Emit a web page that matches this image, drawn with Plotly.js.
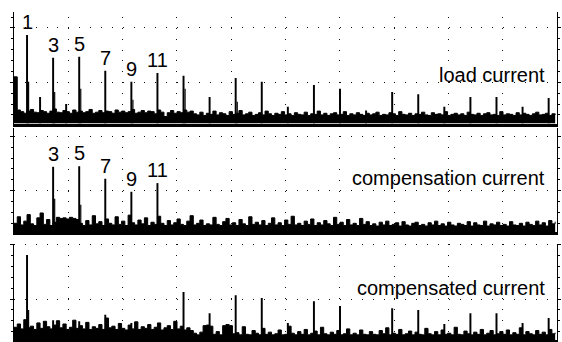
<!DOCTYPE html>
<html>
<head>
<meta charset="utf-8">
<script src="https://cdn.plot.ly/plotly-3.0.1.min.js"></script>
<style>html,body{margin:0;padding:0;background:#fff;}#chart{width:562px;height:342px;}</style>
</head>
<body>
<div id="chart"></div>
<script>
// ---------- data ----------
const fundamentalHz = 50;
const binHz = 12.5;
const harmonicOrders = [0,1,2,3,4,5,6,7,8,9,10,11,12,13,14,15,16,17,18,19,20,21,22,23,24,25,26,27,28,29,30,31,32,33,34,35,36,37,38,39,40,41];

// harmonic line amplitudes (1 grid division = 10)
const loadHarm = [0,16.3,4.9,12.1,3.6,12.3,0,9.7,0,7.7,0,9.3,0,8.8,0,4.9,0,8.4,0,7.7,0,3.1,0,7.1,0,6.4,0,2.4,0,5.8,0,5.4,0,3.1,0,4.9,0,4.9,0,3.1,0,4.7];
const loadSide = [0,7.7,0,5.8,0,6.4,0,0,0,4.4,0,0,0,6.4,0,0,0,4.0,0,0,0,0,0,0,0,0,0,0,0,0,0,0,0,0,0,0,0,0,0,0,0,0];
const compHarm = [0,0,0,12.0,0,12.1,0,9.8,0,7.4,0,9.0,0,0,0,0,0,0,0,0,0,0,0,0,0,0,0,0,0,0,0,0,0,0,0,0,0,0,0,0,0,0];
const compSide = [0,0,0,6.1,0,5.0,0,0,0,0,0,0,0,0,0,0,0,0,0,0,0,0,0,0,0,0,0,0,0,0,0,0,0,0,0,0,0,0,0,0,0,0];
const resHarm  = [0,15.7,0,3.7,0,3.5,0,4.7,0,3.2,0,0,0,8.9,0,5.0,0,8.3,0,7.8,0,3.2,0,7.2,0,6.3,0,0,0,5.9,0,5.6,0,3.0,0,5.0,0,5.0,0,3.2,0,4.1];
const resSide  = [0,5.6,0,0,0,0,0,0,0,0,0,0,0,0,0,0,0,0,0,0,0,0,0,0,0,0,0,0,0,0,0,0,0,0,0,0,0,0,0,0,0,0];

// spectral floor, one value per 12.5 Hz bin
const loadFloor = [8.6,2.5,2.2,1.9,2.3,2.6,2.1,2.0,2.4,2.2,
1.9,2.3,2.7,2.1,2.0,2.4,2.2,1.9,2.5,2.1,
2.3,2.0,2.2,2.6,1.9,2.1,2.4,2.0,2.3,2.2,
1.9,2.5,2.1,2.3,2.0,2.2,2.6,1.9,2.1,2.4,
2.0,2.3,2.2,1.8,2.5,2.1,1.3,2.0,2.4,1.9,
2.2,2.0,2.5,2.1,2.3,1.8,1.6,2.1,1.5,1.9,
1.7,2.3,1.6,2.0,1.8,1.5,2.2,1.7,1.9,2.4,
1.6,1.8,2.1,1.5,1.7,2.0,1.6,2.3,1.8,1.5,
1.9,1.7,2.2,1.6,1.8,1.5,2.0,1.7,1.6,2.1,
1.5,1.8,1.7,2.3,1.6,1.9,1.5,1.8,2.0,1.6,
1.7,2.2,1.5,1.8,1.6,2.0,1.7,1.5,1.9,1.6,
1.8,2.1,1.5,1.7,1.6,2.0,1.8,1.5,2.2,1.7,
1.6,1.9,1.5,1.8,1.7,2.1,1.6,1.5,2.0,1.7,
1.8,1.6,2.2,1.5,1.7,1.9,1.6,1.8,1.5,2.1,
1.7,1.6,1.9,1.5,1.8,2.0,1.6,1.7,1.5,2.2,
1.6,1.8,1.7,1.5,2.0,1.6,1.9,1.7,1.5,1.8,
2.1,1.6,1.7,1.9,1.5,1.8,1.6];
const compFloor = [1.6,2.8,1.3,2.0,3.2,1.5,1.2,2.6,3.5,1.4,
2.3,1.2,1.8,2.7,2.5,2.6,2.4,2.7,2.5,2.3,
1.6,1.2,2.1,1.3,3.0,1.5,1.9,1.2,2.4,1.6,
1.3,2.8,1.4,2.0,1.2,3.1,1.7,1.3,2.2,1.5,
2.6,1.2,1.8,1.4,2.9,1.6,1.2,2.1,1.3,1.7,
2.4,1.4,1.2,2.0,3.0,1.3,1.6,2.2,1.2,1.5,
1.3,2.7,1.4,1.2,1.9,2.5,1.3,1.7,1.2,2.3,
1.5,1.2,2.8,1.4,1.8,1.3,2.1,1.2,1.6,2.6,
1.3,1.7,1.2,2.2,1.4,2.9,1.3,1.6,1.2,2.0,
1.4,2.4,1.2,1.7,1.3,2.1,1.5,1.2,2.7,1.4,
1.8,1.2,2.3,1.3,1.6,1.2,2.5,1.4,1.9,1.2,
1.5,1.1,1.8,1.3,2.0,1.2,1.4,1.7,1.1,1.9,
1.3,1.1,1.6,1.8,1.2,1.4,1.1,1.7,1.3,2.0,
1.2,1.5,1.1,1.8,1.3,1.1,1.6,1.4,1.2,1.9,
1.1,1.7,1.3,1.2,2.0,1.1,1.5,1.3,1.8,1.2,
1.4,1.1,1.9,1.3,1.2,1.6,1.1,1.8,1.4,1.2,
2.0,1.3,1.7,1.1,2.1,1.5,1.9];
const resFloor = [2.4,3.0,2.1,3.8,2.3,2.6,2.0,3.2,2.2,3.5,
2.5,2.1,2.8,3.6,2.3,3.0,2.0,2.4,3.7,2.2,
2.7,2.1,3.3,2.0,2.5,2.2,2.9,2.0,4.1,2.3,
2.6,2.0,3.1,2.2,1.9,2.8,2.1,3.4,2.0,2.5,
2.2,2.9,2.0,2.4,3.2,1.9,2.3,2.7,2.0,3.5,
2.1,2.6,1.9,2.3,1.8,1.3,1.0,1.5,2.7,2.8,
2.6,1.1,1.6,1.0,2.7,2.9,2.7,1.2,1.4,1.0,
2.5,1.1,1.0,1.8,1.3,1.0,2.2,1.1,1.5,1.0,
1.2,1.9,1.0,1.1,2.6,1.3,1.0,1.6,1.1,2.0,
1.0,1.3,1.7,1.0,2.4,1.2,1.0,1.5,1.1,1.8,
1.0,1.2,2.1,1.0,1.3,1.0,1.9,1.1,1.0,1.6,
1.1,1.0,1.8,1.2,2.3,1.0,1.3,1.1,2.0,1.0,
1.2,1.7,1.0,1.5,1.1,1.0,2.2,1.2,1.0,1.6,
1.0,1.9,1.1,1.3,1.0,2.4,1.1,1.0,1.7,1.2,
1.0,1.5,1.1,2.0,1.0,1.3,1.8,1.0,1.2,1.6,
1.1,1.9,1.0,1.4,1.1,2.3,1.0,1.6,1.2,1.0,
1.8,1.1,1.5,1.0,2.0,1.2,1.4];

const loadLabels = ['1','3','5','7','9','11'];
const loadLabelOrders = [1,3,5,7,9,11];
const compLabels = ['3','5','7','9','11'];
const compLabelOrders = [3,5,7,9,11];
const panelTitles = ['load current','compensation current','compensated current'];

// ---------- build ----------
const FONT = '"Liberation Sans", Arial, sans-serif';
const panels = [
  {floor: loadFloor, harm: loadHarm, side: loadSide, labels: loadLabels, lo: loadLabelOrders, title: panelTitles[0], titleY: 9.0,
   domain: [0.63860, 0.96491], yr: 20.53, vdash: '0px,4.93px,1px,4.94px'},
  {floor: compFloor, harm: compHarm, side: compSide, labels: compLabels, lo: compLabelOrders, title: panelTitles[1], titleY: 9.9,
   domain: [0.32164, 0.62573], yr: 19.14, vdash: '0px,8.2px,1px,1.67px'},
  {floor: resFloor, harm: resHarm, side: resSide, labels: [], lo: [], title: panelTitles[2], titleY: 9.7,
   domain: [0.00497, 0.28772], yr: 17.8, vdash: '0px,0.2px,1px,9.67px'}
];

const traces = [];
const layout = {
  width: 562, height: 342,
  margin: {l: 14, r: 5, t: 0, b: 0},
  paper_bgcolor: '#fff', plot_bgcolor: '#fff',
  showlegend: false, barmode: 'overlay',
  font: {family: FONT, color: '#000'},
  annotations: []
};

panels.forEach((p, i) => {
  const n = i === 0 ? '' : String(i + 1);
  const xa = 'x' + n, ya = 'y' + n;
  const binX = p.floor.map((_, k) => k * binHz);
  traces.push({type: 'scatter', mode: 'lines', x: binX, y: p.floor, xaxis: xa, yaxis: ya,
    line: {shape: 'hv', width: 1, color: '#000'}, fill: 'tozeroy', fillcolor: '#000', hoverinfo: 'skip'});
  const hx = [], hy = [], sx = [], sy = [];
  harmonicOrders.forEach((o, j) => {
    if (p.harm[j] > 0) { hx.push(o * fundamentalHz); hy.push(p.harm[j]); }
    if (p.side[j] > 0) { sx.push(o * fundamentalHz + 6); sy.push(p.side[j]); }
  });
  traces.push({type: 'bar', x: hx, y: hy, width: 7.5, xaxis: xa, yaxis: ya,
    marker: {color: '#000', line: {width: 0}}, hoverinfo: 'skip'});
  traces.push({type: 'bar', x: sx, y: sy, width: 4.5, xaxis: xa, yaxis: ya,
    marker: {color: '#000', line: {width: 0}}, hoverinfo: 'skip'});

  layout['xaxis' + n] = {
    anchor: ya, range: [0, 2082], tick0: 0, dtick: 208.2,
    showgrid: true, gridcolor: '#111', gridwidth: 1, griddash: p.vdash,
    showticklabels: false, ticks: '', zeroline: false,
    showline: true, linecolor: '#000', linewidth: 3, fixedrange: true
  };
  layout['yaxis' + n] = {
    anchor: xa, domain: p.domain, range: [0, p.yr], tick0: 7.6, dtick: 10,
    showgrid: true, gridcolor: '#111', gridwidth: 1, griddash: '1px,9.87px',
    showticklabels: false, ticks: 'outside', ticklen: 3, tickcolor: '#000', tickwidth: 1,
    minor: {tick0: 7.6, dtick: 2, ticks: 'outside', ticklen: 2, tickcolor: '#000', showgrid: false},
    zeroline: false, showline: true, linecolor: '#000', linewidth: 1, mirror: 'ticks', fixedrange: true
  };

  p.labels.forEach((t, j) => {
    const o = p.lo[j];
    layout.annotations.push({xref: xa, yref: ya, x: o * fundamentalHz, y: p.harm[harmonicOrders.indexOf(o)],
      text: t, showarrow: false, xanchor: 'center', yanchor: 'bottom', yshift: 0,
      font: {family: FONT, size: 20, color: '#000'}});
  });
  layout.annotations.push({xref: xa, yref: ya, x: 2044, y: p.titleY, text: p.title, showarrow: false,
    xanchor: 'right', yanchor: 'middle', font: {family: FONT, size: 20, color: '#000'}});
});

Plotly.newPlot('chart', traces, layout, {staticPlot: true, displayModeBar: false});
</script>
</body>
</html>
